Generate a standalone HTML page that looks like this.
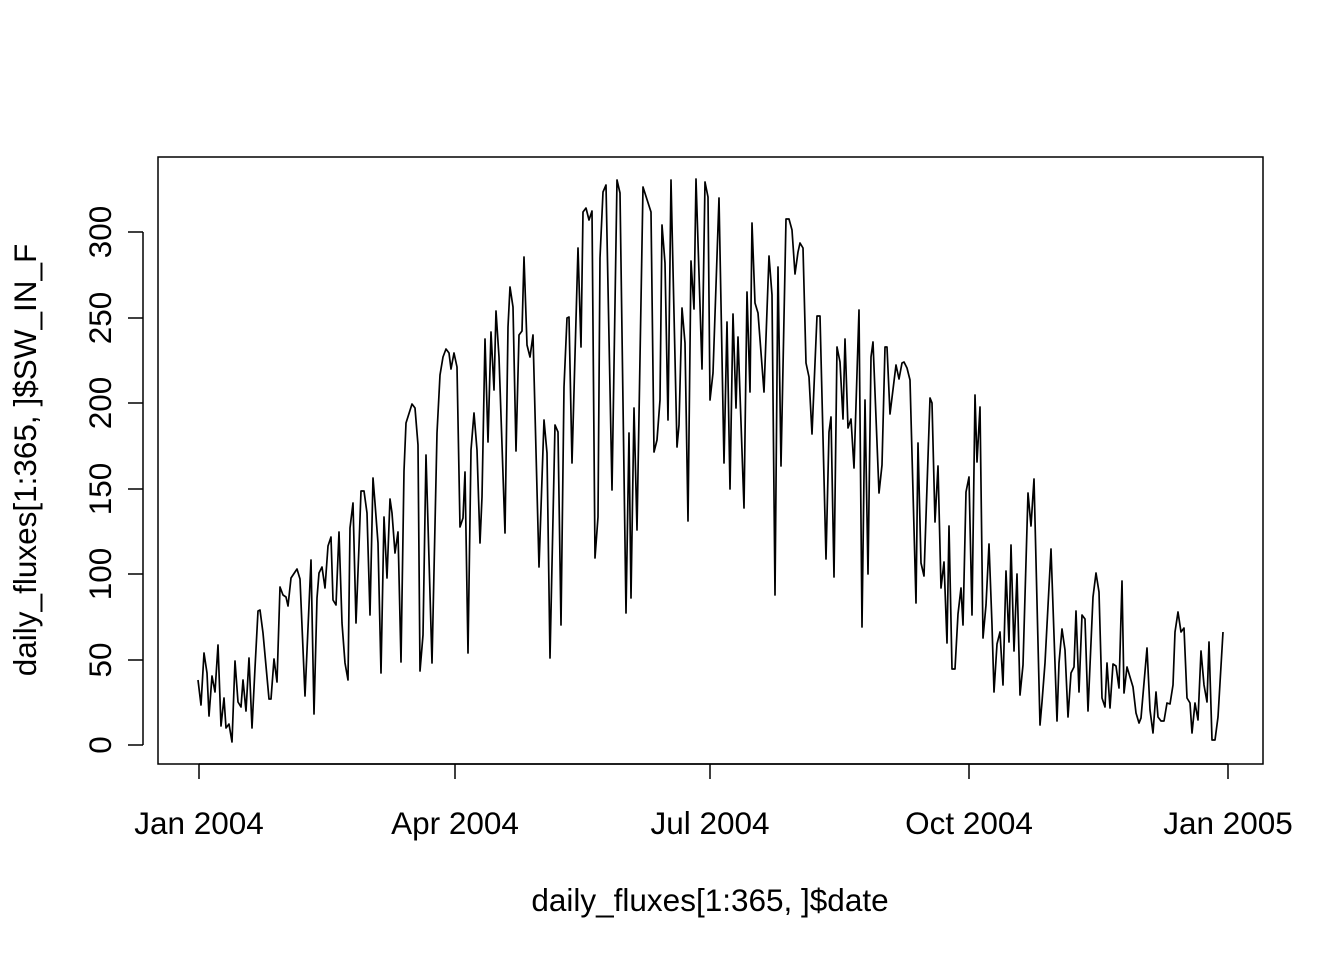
<!DOCTYPE html>
<html><head><style>body{margin:0;background:#fff}svg{display:block}text{font-family:"Liberation Sans",sans-serif;fill:#000}</style></head><body>
<svg width="1344" height="960" viewBox="0 0 1344 960">
<rect x="158" y="157" width="1105" height="607" fill="none" stroke="#000" stroke-width="1.5"/>
<g stroke="#000" stroke-width="1.5" fill="none">
<path d="M143 745V232M143 745h-15M143 660h-15M143 574h-15M143 489h-15M143 403h-15M143 318h-15M143 232h-15"/>
<path d="M199 764h1029M199 764v15M455 764v15M710 764v15M969 764v15M1228 764v15"/>
</g>
<g font-size="31.5" text-anchor="middle">
<text transform="translate(111,745) rotate(-90)">0</text>
<text transform="translate(111,660) rotate(-90)">50</text>
<text transform="translate(111,574) rotate(-90)">100</text>
<text transform="translate(111,489) rotate(-90)">150</text>
<text transform="translate(111,403) rotate(-90)">200</text>
<text transform="translate(111,318) rotate(-90)">250</text>
<text transform="translate(111,232) rotate(-90)">300</text>
<text x="199" y="834">Jan 2004</text>
<text x="455" y="834">Apr 2004</text>
<text x="710" y="834">Jul 2004</text>
<text x="969" y="834">Oct 2004</text>
<text x="1228" y="834">Jan 2005</text>
<text x="710" y="911">daily_fluxes[1:365, ]$date</text>
<text transform="translate(36,460) rotate(-90)">daily_fluxes[1:365, ]$SW_IN_F</text>
</g>
<polyline fill="none" stroke="#000" stroke-width="1.7" stroke-linejoin="round" points="198,680 201,705 204,653 207,673 209,716 212,676 215,692 218,645 221,726 224,698 226,728 229,724 232,742 235,661 238,702 241,707 243,680 246,711 249,658 252,728 255,668 258,611 260,610 263,633 269,699 271,699 274,659 277,682 280,587 283,595 286,597 288,606 291,578 297,569 300,579 305,696 311,560 314,714 317,598 319,573 322,567 325,588 328,546 331,537 333,600 336,605 339,532 342,623 345,663 348,680 350,528 353,503 356,623 359,546 361,491 364,491 367,513 370,615 373,478 375,503 378,543 381,673 384,517 387,578 390,499 392,513 395,553 398,532 401,662 404,471 406,423 412,404 415,408 418,445 420,671 423,635 426,455 432,663 437,433 440,375 443,357 446,349 449,353 451,369 454,353 457,367 460,527 463,518 465,472 468,653 471,450 474,413 477,450 480,543 482,497 485,339 488,442 491,332 494,390 496,311 499,357 505,533 508,327 510,287 513,307 516,451 519,335 522,331 524,257 527,345 530,357 533,335 539,567 544,420 547,453 550,658 555,425 558,432 561,625 564,387 567,318 569,317 572,463 578,248 581,347 583,212 586,208 589,220 592,211 595,558 598,517 600,258 603,192 606,185 612,490 617,180 620,193 626,613 629,433 631,598 634,408 637,530 643,187 651,212 654,452 657,440 660,400 662,225 665,263 668,420 671,180 677,447 679,425 682,308 685,343 688,521 691,261 694,309 696,179 702,369 705,182 708,197 710,400 713,373 719,198 724,463 727,322 730,489 733,314 736,408 738,337 744,508 747,292 750,392 752,223 755,303 758,313 764,392 769,256 772,295 775,595 778,267 781,466 786,219 789,219 792,230 795,274 798,252 800,243 803,248 806,363 809,377 812,434 817,316 820,316 826,559 829,432 831,417 834,577 837,347 840,362 843,419 845,339 848,428 851,419 854,468 859,310 862,627 865,400 868,574 871,357 873,342 879,493 882,465 885,347 887,347 890,414 896,365 899,379 902,363 904,362 907,368 910,380 916,603 918,443 921,563 924,576 930,398 932,403 935,522 938,466 941,588 944,562 947,643 949,526 952,669 955,669 958,614 961,588 963,625 966,492 969,477 972,615 975,395 977,462 980,407 983,638 986,605 989,544 992,625 994,692 997,644 1000,632 1003,685 1006,571 1009,642 1011,545 1014,651 1017,574 1020,695 1023,665 1028,493 1031,526 1034,479 1040,725 1042,702 1045,663 1051,549 1057,721 1059,663 1062,629 1065,650 1068,717 1071,673 1074,667 1076,611 1079,692 1082,615 1085,619 1088,711 1093,597 1096,573 1099,592 1102,698 1105,707 1107,663 1110,708 1113,664 1116,666 1119,688 1122,581 1124,693 1127,667 1133,687 1136,713 1139,723 1141,718 1147,648 1150,710 1153,733 1156,692 1158,717 1161,721 1164,721 1167,703 1170,704 1173,685 1175,632 1178,612 1181,632 1184,628 1187,698 1190,703 1192,733 1195,703 1198,720 1201,651 1204,685 1207,702 1209,642 1212,740 1215,740 1218,717 1223,632"/>
</svg>
</body></html>
